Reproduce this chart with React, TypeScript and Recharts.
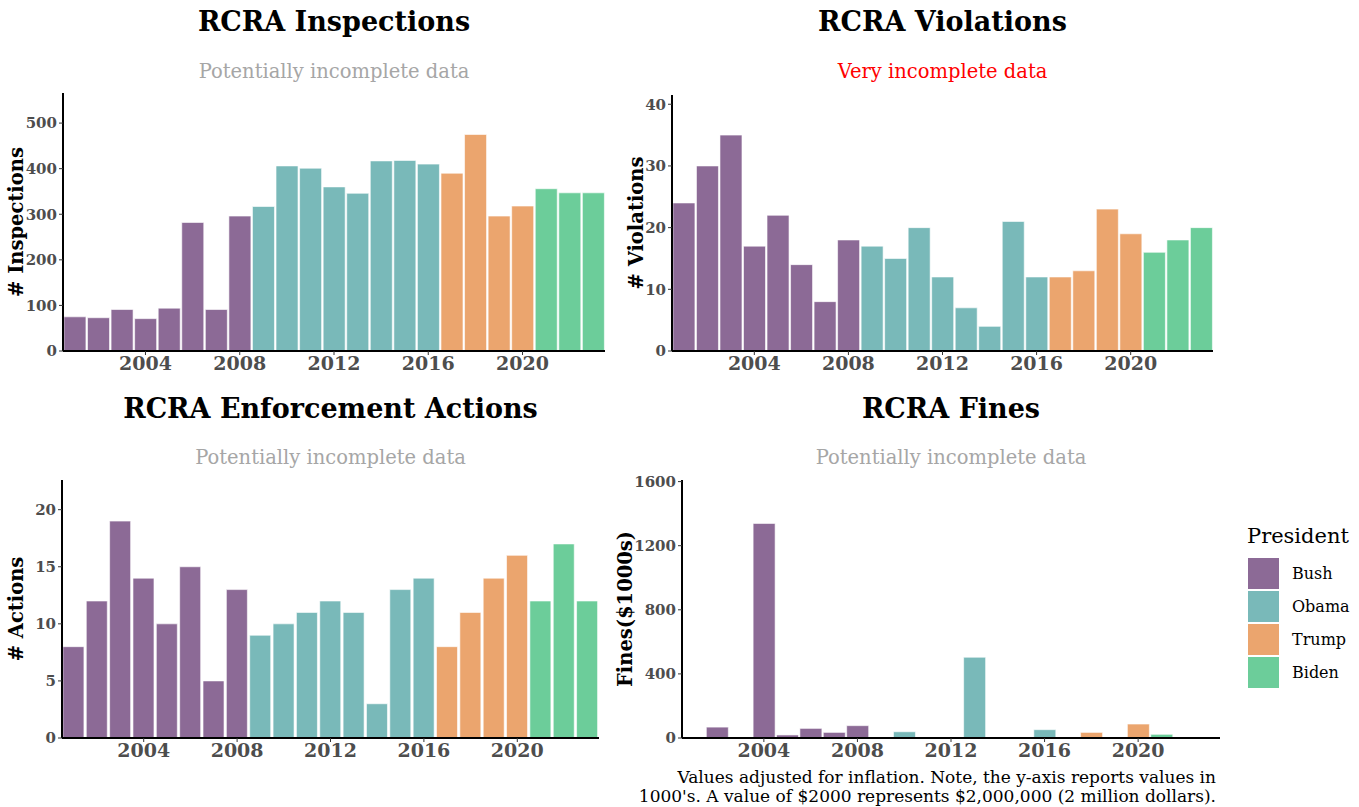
import { Bar, BarChart, Cell, XAxis, YAxis } from "recharts";

const years = [
  2001, 2002, 2003, 2004, 2005, 2006, 2007, 2008, 2009, 2010, 2011, 2012,
  2013, 2014, 2015, 2016, 2017, 2018, 2019, 2020, 2021, 2022, 2023,
];
const presidents = [
  "Bush", "Bush", "Bush", "Bush", "Bush", "Bush", "Bush", "Bush",
  "Obama", "Obama", "Obama", "Obama", "Obama", "Obama", "Obama", "Obama",
  "Trump", "Trump", "Trump", "Trump",
  "Biden", "Biden", "Biden",
];
const inspections = [
  75, 73, 91, 71, 94, 282, 91, 296, 317, 406, 401, 360, 346, 417, 418, 410,
  390, 475, 296, 318, 356, 347, 347,
];
const violations = [
  24, 30, 35, 17, 22, 14, 8, 18, 17, 15, 20, 12, 7, 4, 21, 12, 12, 13, 23, 19,
  16, 18, 20,
];
const actions = [
  8, 12, 19, 14, 10, 15, 5, 13, 9, 10, 11, 12, 11, 3, 13, 14, 8, 11, 14, 16,
  12, 17, 12,
];
const fines = [
  null, 68, null, 1339, 19, 60, 35, 77, null, 39, null, null, 504, null, null,
  52, null, 35, null, 87, 23, null, null,
];
const xTicks = [2004, 2008, 2012, 2016, 2020];
const legendNames = ["Bush", "Obama", "Trump", "Biden"];

const colors: Record<string, string> = {
  Bush: "#8c6a96",
  Obama: "#79b9b9",
  Trump: "#eba56e",
  Biden: "#6ccd9a",
};

const FONT = "'DejaVu Serif', serif";

interface PanelProps {
  left: number;
  top: number;
  width: number;
  height: number;
  axisWidth: number;
  margin: { top: number; right: number; bottom: number };
  values: (number | null)[];
  domain: [number, number];
  yTicks: number[];
  title: string;
  subtitle: string;
  subtitleColor: string;
  titleY: number;
  subtitleY: number;
  yLabel: string;
  yLabelX: number;
}

function Panel(p: PanelProps) {
  const data = years.map((year, i) => ({
    year,
    president: presidents[i],
    value: p.values[i],
  }));
  const plotLeft = p.left + p.axisWidth;
  const plotRight = p.left + p.width - p.margin.right;
  const plotTop = p.top + p.margin.top;
  const plotBottom = p.top + p.height - p.margin.bottom - 30;
  const cx = (plotLeft + plotRight) / 2;
  const cy = (plotTop + plotBottom) / 2;
  return (
    <>
      <div
        style={{
          position: "absolute",
          left: cx - 300,
          width: 600,
          top: p.titleY,
          textAlign: "center",
          fontSize: 27,
          fontWeight: "bold",
          color: "#000",
          lineHeight: "32px",
        }}
      >
        {p.title}
      </div>
      <div
        style={{
          position: "absolute",
          left: cx - 300,
          width: 600,
          top: p.subtitleY,
          textAlign: "center",
          fontSize: 19.5,
          color: p.subtitleColor,
          lineHeight: "22px",
        }}
      >
        {p.subtitle}
      </div>
      <div
        style={{
          position: "absolute",
          left: p.yLabelX - 150,
          top: cy - 12,
          width: 300,
          height: 24,
          lineHeight: "24px",
          textAlign: "center",
          transform: "rotate(-90deg)",
          fontSize: 19.5,
          fontWeight: "bold",
          color: "#000",
        }}
      >
        {p.yLabel}
      </div>
      <div style={{ position: "absolute", left: p.left, top: p.top }}>
        <BarChart
          width={p.width}
          height={p.height}
          data={data}
          margin={{ top: p.margin.top, right: p.margin.right, bottom: p.margin.bottom, left: 0 }}
          barCategoryGap="4%"
        >
          <XAxis
            dataKey="year"
            ticks={xTicks}
            height={30}
            axisLine={{ stroke: "#000", strokeWidth: 2 }}
            tickLine={{ stroke: "#333" }}
            tickSize={4}
            tick={{ fill: "#4d4d4d", fontSize: 19, fontWeight: "bold", fontFamily: FONT }}
          />
          <YAxis
            width={p.axisWidth}
            domain={p.domain}
            ticks={p.yTicks}
            allowDataOverflow
            axisLine={{ stroke: "#000", strokeWidth: 2 }}
            tickLine={{ stroke: "#333" }}
            tickSize={4}
            tick={{ fill: "#4d4d4d", fontSize: 15, fontWeight: "bold", fontFamily: FONT }}
          />
          <Bar dataKey="value" isAnimationActive={false} stroke="#ffffff" strokeWidth={0.6}>
            {data.map((d) => (
              <Cell key={d.year} fill={colors[d.president]} />
            ))}
          </Bar>
        </BarChart>
      </div>
    </>
  );
}

export default function App() {
  return (
    <div
      style={{
        position: "absolute",
        left: 0,
        top: 0,
        width: 1359,
        height: 807,
        background: "#fff",
        fontFamily: FONT,
      }}
    >
      <Panel
        left={0}
        top={80}
        width={620}
        height={310}
        axisWidth={63}
        margin={{ top: 13, right: 15, bottom: 9 }}
        values={inspections}
        domain={[0, 566]}
        yTicks={[0, 100, 200, 300, 400, 500]}
        title="RCRA Inspections"
        subtitle="Potentially incomplete data"
        subtitleColor="#a6a6a6"
        titleY={6}
        subtitleY={61}
        yLabel="# Inspections"
        yLabelX={17}
      />
      <Panel
        left={610}
        top={80}
        width={620}
        height={310}
        axisWidth={62}
        margin={{ top: 15, right: 17, bottom: 9 }}
        values={violations}
        domain={[0, 41.5]}
        yTicks={[0, 10, 20, 30, 40]}
        title="RCRA Violations"
        subtitle="Very incomplete data"
        subtitleColor="#ff0000"
        titleY={6}
        subtitleY={61}
        yLabel="# Violations"
        yLabelX={637}
      />
      <Panel
        left={0}
        top={465}
        width={620}
        height={310}
        axisWidth={62}
        margin={{ top: 15, right: 21, bottom: 7 }}
        values={actions}
        domain={[0, 22.6]}
        yTicks={[0, 5, 10, 15, 20]}
        title="RCRA Enforcement Actions"
        subtitle="Potentially incomplete data"
        subtitleColor="#a6a6a6"
        titleY={393}
        subtitleY={447}
        yLabel="# Actions"
        yLabelX={17}
      />
      <Panel
        left={620}
        top={465}
        width={620}
        height={310}
        axisWidth={62}
        margin={{ top: 15, right: 20, bottom: 7 }}
        values={fines}
        domain={[0, 1610]}
        yTicks={[0, 400, 800, 1200, 1600]}
        title="RCRA Fines"
        subtitle="Potentially incomplete data"
        subtitleColor="#a6a6a6"
        titleY={393}
        subtitleY={447}
        yLabel="Fines($1000s)"
        yLabelX={626}
      />
      <div
        style={{
          position: "absolute",
          right: 1359 - 1216,
          top: 768,
          textAlign: "right",
          fontSize: 17,
          lineHeight: "19px",
          color: "#000",
          whiteSpace: "nowrap",
        }}
      >
        Values adjusted for inflation. Note, the y-axis reports values in
        <br />
        1000's. A value of $2000 represents $2,000,000 (2 million dollars).
      </div>
      <div style={{ position: "absolute", left: 1247, top: 523 }}>
        <div style={{ fontSize: 21, lineHeight: "26px", color: "#000", marginBottom: 8 }}>
          President
        </div>
        {legendNames.map((name) => (
          <div key={name} style={{ display: "flex", alignItems: "center", height: 33 }}>
            <div
              style={{
                width: 31,
                height: 31,
                background: colors[name],
                border: "1px solid #fff",
              }}
            />
            <div style={{ marginLeft: 12, fontSize: 16, color: "#000" }}>{name}</div>
          </div>
        ))}
      </div>
    </div>
  );
}
